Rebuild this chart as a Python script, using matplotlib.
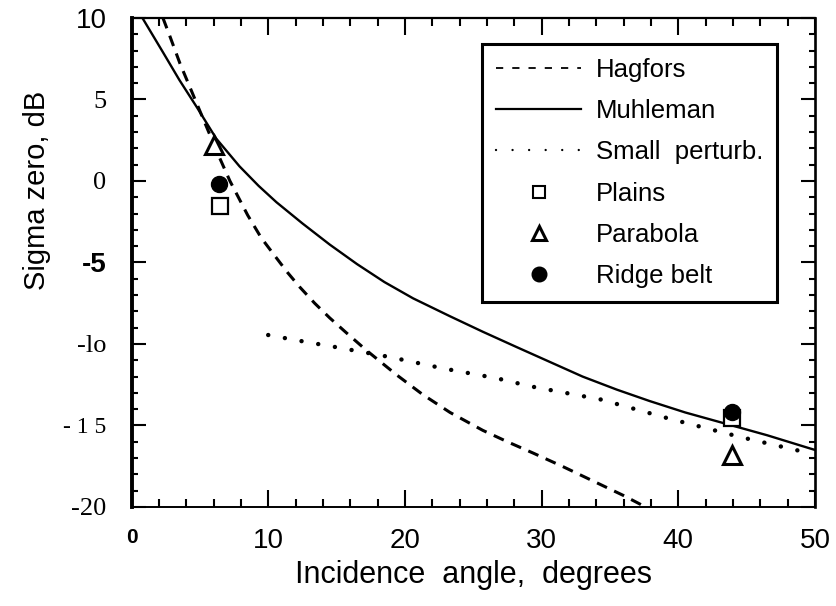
import matplotlib.pyplot as plt
from matplotlib.lines import Line2D
from matplotlib.ticker import MultipleLocator

# curves (incidence angle in degrees, sigma zero in dB)
hagfors_x = [2.3, 2.8, 3.55, 4.4, 5.0, 5.7, 6.35, 7.2, 8.5, 9.5, 10.4, 11.4, 12.3, 13.4, 14.5,
             15.7, 17.2, 19.4, 21.3, 23.3, 25.7, 27.5, 29.4, 31.5, 33.5, 36.0, 37.6]
hagfors_y = [10.0, 8.9, 7.2, 5.5, 4.3, 2.9, 1.6, 0.0, -2.1, -3.5, -4.5, -5.6, -6.5, -7.5, -8.4,
             -9.3, -10.4, -11.9, -13.1, -14.2, -15.3, -16.0, -16.7, -17.5, -18.3, -19.3, -20.0]

muhleman_x = [0.8, 2.3, 3.5, 4.8, 6.2, 7.9, 9.3, 10.6, 12.5, 14.5, 16.5, 18.5, 20.6, 23.3,
              25.7, 28.2, 30.6, 33.0, 35.5, 37.9, 40.5, 43.5, 46.5, 49.6, 50.0]
muhleman_y = [10.0, 7.9, 6.2, 4.5, 2.6, 0.9, -0.3, -1.3, -2.6, -3.9, -5.1, -6.2, -7.2, -8.3,
              -9.25, -10.2, -11.1, -12.0, -12.8, -13.5, -14.2, -14.9, -15.6, -16.4, -16.5]

perturb_x = [10.0, 12.6, 15.0, 18.9, 22.8, 26.7, 29.2, 34.3, 39.2, 44.5, 49.6]
perturb_y = [-9.45, -9.85, -10.2, -10.8, -11.5, -12.1, -12.6, -13.4, -14.55, -15.7, -16.7]

plains_x = [6.5, 43.9]
plains_y = [-1.55, -14.55]
parabola_x = [6.0, 43.9]
parabola_y = [2.2, -16.8]
ridge_x = [6.4, 43.9]
ridge_y = [-0.2, -14.15]

xticks = [0, 10, 20, 30, 40, 50]
xtick_labels = ["0", "10", "20", "30", "40", "50"]
yticks = [10, 5, 0, -5, -10, -15, -20]
ytick_labels = ["10", "5", "0", "-5", "-lo", "- 1 5", "-20"]

sans = ["Liberation Sans", "DejaVu Sans"]
serif = ["Liberation Serif", "DejaVu Serif"]

plt.rcParams['font.family'] = sans

fig = plt.figure(figsize=(8.36, 6.06), dpi=100)
ax = fig.add_axes([0.1573, 0.1634, 0.8176, 0.8069])

ax.plot(hagfors_x, hagfors_y, color='k', lw=2.2, linestyle=(0, (3.6, 2.6)))
ax.plot(muhleman_x, muhleman_y, color='k', lw=1.7)
ax.plot(perturb_x, perturb_y, color='k', lw=3.2, linestyle=(0, (0.01, 3.8)),
        dash_capstyle='round')

ax.plot(plains_x, plains_y, linestyle='none', marker='s', ms=12, mfc='white',
        mec='k', mew=1.6)
ax.plot(parabola_x, parabola_y, linestyle='none', marker='^', ms=13, mfc='white',
        mec='k', mew=2.2)
ax.plot(ridge_x, ridge_y, linestyle='none', marker='o', ms=11.5, color='k')

ax.set_xlim(0, 50)
ax.set_ylim(-20, 10)

ax.set_xticks(xticks, labels=xtick_labels)
ax.set_yticks(yticks, labels=ytick_labels)
ax.xaxis.set_minor_locator(MultipleLocator(2))
ax.yaxis.set_minor_locator(MultipleLocator(1))

ax.tick_params(axis='both', which='both', direction='in', top=True, right=True,
               width=1.5, color='k')
ax.tick_params(axis='x', which='major', length=12, pad=15)
ax.tick_params(axis='x', which='minor', length=6)
ax.tick_params(axis='y', which='major', length=10, pad=18)
ax.tick_params(axis='y', which='minor', length=4.5)

xl = ax.get_xticklabels()
for lab in xl:
    lab.set_fontsize(20)
xl[0].set_fontsize(15)
xl[0].set_fontweight('bold')

yl = ax.get_yticklabels()
for lab in yl:
    lab.set_fontsize(19)
    lab.set_family(serif)
yl[0].set_family(sans)
yl[0].set_fontsize(20)
yl[3].set_family(sans)
yl[3].set_fontweight('bold')
yl[3].set_fontsize(20)
yl[5].set_fontsize(17)

ax.spines['left'].set_linewidth(2.8)
ax.spines['bottom'].set_linewidth(1.4)
ax.spines['top'].set_linewidth(1.6)
ax.spines['right'].set_linewidth(1.9)

ax.set_xlabel("Incidence  angle,  degrees", fontsize=22)
ax.set_ylabel("Sigma zero, dB", fontsize=21)
ax.xaxis.set_label_coords(0.5, -0.108)
ax.yaxis.set_label_coords(-0.118, 0.648)

handles = [
    Line2D([], [], color='k', lw=1.3, linestyle=(0, (4, 5))),
    Line2D([], [], color='k', lw=1.6),
    Line2D([], [], color='k', lw=1.7, linestyle=(0, (0.01, 7)), dash_capstyle='round'),
    Line2D([], [], linestyle='none', marker='s', ms=8, mfc='white', mec='k', mew=1.5),
    Line2D([], [], linestyle='none', marker='^', ms=10, mfc='white', mec='k', mew=2.2),
    Line2D([], [], linestyle='none', marker='o', ms=10.5, color='k'),
]
labels = ["Hagfors", "Muhleman", "Small  perturb.", "Plains", "Parabola", "Ridge belt"]
leg = ax.legend(handles, labels, loc='upper left', bbox_to_anchor=(0.513, 0.947),
                fontsize=18.5, frameon=True, fancybox=False, handlelength=3.3,
                handletextpad=0.58, labelspacing=0.67, borderpad=0.55,
                borderaxespad=0.0)
frame = leg.get_frame()
frame.set_edgecolor('k')
frame.set_linewidth(2.2)
frame.set_alpha(1)

fig.savefig("out.png", dpi=100)
